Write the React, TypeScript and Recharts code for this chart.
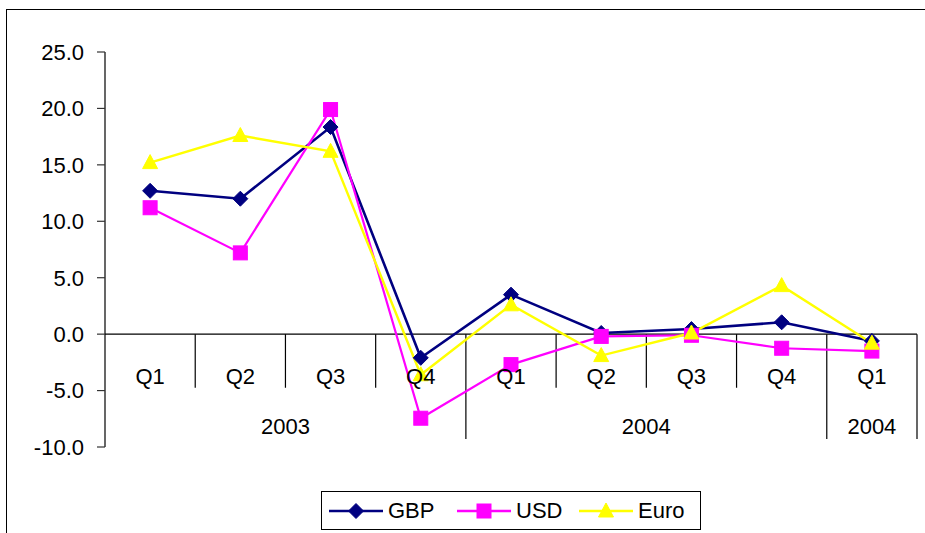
import React from 'react';
import { LineChart, Line, XAxis, YAxis, ReferenceLine, Legend } from 'recharts';

const FONT = "'Liberation Sans', Arial, sans-serif";

const quarters = ['Q1', 'Q2', 'Q3', 'Q4', 'Q1', 'Q2', 'Q3', 'Q4', 'Q1'];
const yearLabels = ['2003', '2004', '2004'];
const yearStarts = [0, 4, 8];
const yearEnds = [4, 8, 9];
const gbp = [12.7, 12.0, 18.35, -2.1, 3.5, 0.1, 0.45, 1.05, -0.6];
const usd = [11.2, 7.2, 19.9, -7.45, -2.7, -0.2, -0.1, -1.25, -1.5];
const euro = [15.2, 17.6, 16.2, -3.6, 2.6, -1.9, 0.1, 4.3, -0.8];
const yTicks = [-10, -5, 0, 5, 10, 15, 20, 25];
const seriesOrder = ['GBP', 'USD', 'Euro'];

const COLORS = { GBP: '#000080', USD: '#FF00FF', Euro: '#FFFF00' };

const data = quarters.map((q, i) => ({ pos: i + 0.5, q, GBP: gbp[i], USD: usd[i], Euro: euro[i] }));
const qTicks = data.map((d) => d.pos);
const yearTicks = yearStarts.map((s, i) => (s + yearEnds[i]) / 2);
const groupBounds = yearEnds;
const innerBounds = qTicks.map((p) => p + 0.5).filter((b) => b < 9 && !groupBounds.includes(b));

const diamond = (cx: number, cy: number, r = 7.5) =>
  `M${cx},${cy - r}L${cx + r},${cy}L${cx},${cy + r}L${cx - r},${cy}Z`;

const markerFor = (name: string, cx: number, cy: number, key?: any) => {
  const fill = (COLORS as any)[name];
  if (name === 'GBP') return <path key={key} d={diamond(cx, cy)} fill={fill} stroke={fill} strokeWidth={1} />;
  if (name === 'USD') return <rect key={key} x={cx - 7} y={cy - 7} width={14} height={14} fill={fill} stroke={fill} strokeWidth={1} />;
  return (
    <path key={key} d={`M${cx},${cy - 8}L${cx + 7.5},${cy + 6}L${cx - 7.5},${cy + 6}Z`} fill={fill} stroke={fill} strokeWidth={1} />
  );
};

const makeDot = (name: string) => (p: any) => markerFor(name, p.cx, p.cy, `${name}-${p.index}`);

const QuarterTick = (props: any) => {
  const { x, y, payload } = props;
  const idx = Math.round(payload.value - 0.5);
  return (
    <text x={x} y={y - 71} textAnchor="middle" dominantBaseline="central" fontSize={22} fontFamily={FONT} fill="#000">
      {quarters[idx]}
    </text>
  );
};

const YearTick = (props: any) => {
  const { x, y, payload } = props;
  const idx = yearTicks.indexOf(payload.value);
  return (
    <text x={x} y={y - 61} textAnchor="middle" dominantBaseline="central" fontSize={22} fontFamily={FONT} fill="#000">
      {yearLabels[idx]}
    </text>
  );
};

const itemLeft = [8, 136, 258];

const LegendContent = (props: any) => {
  const payload = [...(props.payload || [])].sort(
    (a: any, b: any) => seriesOrder.indexOf(a.value) - seriesOrder.indexOf(b.value)
  );
  return (
    <div
      style={{
        position: 'relative',
        width: 380,
        height: 39,
        border: '1.3px solid #000',
        boxSizing: 'border-box',
        background: '#fff',
      }}
    >
      {payload.map((p: any, i: number) => (
        <div
          key={p.value}
          style={{ position: 'absolute', left: itemLeft[i] - 1, top: 0, height: 37, display: 'flex', alignItems: 'center' }}
        >
          <svg width={54} height={20} style={{ display: 'block' }}>
            <line x1={0} y1={10} x2={54} y2={10} stroke={(COLORS as any)[p.value]} strokeWidth={2.5} />
            {markerFor(p.value, 27, 10)}
          </svg>
          <span style={{ marginLeft: 5, fontSize: 22, fontFamily: FONT, color: '#000', lineHeight: '22px' }}>{p.value}</span>
        </div>
      ))}
    </div>
  );
};

export default function App() {
  return (
    <div style={{ position: 'absolute', left: 0, top: 0, width: 925, height: 533, overflow: 'hidden', background: '#fff' }}>
      <div
        style={{
          position: 'absolute',
          left: 6,
          top: 9,
          width: 940,
          height: 560,
          border: '1.5px solid #000',
          boxSizing: 'border-box',
        }}
      />
      <div style={{ position: 'absolute', left: 0, top: 0 }}>
        <LineChart width={925} height={533} data={data} margin={{ top: 52, right: 8, left: 0, bottom: 0 }}>
          <XAxis
            xAxisId="q"
            type="number"
            dataKey="pos"
            domain={[0, 9]}
            ticks={qTicks}
            interval={0}
            height={40}
            axisLine={false}
            tickLine={false}
            tickSize={0}
            tickMargin={0}
            tick={<QuarterTick />}
            allowDataOverflow
          />
          <XAxis
            xAxisId="y"
            type="number"
            dataKey="pos"
            domain={[0, 9]}
            ticks={yearTicks}
            interval={0}
            height={46}
            axisLine={false}
            tickLine={false}
            tickSize={0}
            tickMargin={0}
            tick={<YearTick />}
            allowDataOverflow
          />
          <YAxis
            width={105}
            domain={[-10, 25]}
            ticks={yTicks}
            interval={0}
            tickFormatter={(v: number) => v.toFixed(1)}
            axisLine={{ stroke: '#000', strokeWidth: 1.2 }}
            tickLine={{ stroke: '#333', strokeWidth: 1.2 }}
            tickSize={8}
            tickMargin={13}
            tick={{ fill: '#000', fontSize: 22, fontFamily: FONT }}
            allowDataOverflow
          />
          <ReferenceLine xAxisId="q" y={0} stroke="#000" strokeWidth={1.2} />
          {innerBounds.map((b) => (
            <ReferenceLine
              key={`in-${b}`}
              xAxisId="q"
              segment={[
                { x: b, y: 0 },
                { x: b, y: -4.75 },
              ]}
              stroke="#000"
              strokeWidth={1.2}
            />
          ))}
          {groupBounds.map((b) => (
            <ReferenceLine
              key={`gr-${b}`}
              xAxisId="q"
              segment={[
                { x: b, y: 0 },
                { x: b, y: -9.3 },
              ]}
              stroke="#000"
              strokeWidth={1.2}
            />
          ))}
          <Line
            xAxisId="q"
            dataKey="GBP"
            name="GBP"
            stroke={COLORS.GBP}
            strokeWidth={2.6}
            dot={makeDot('GBP')}
            activeDot={false}
            isAnimationActive={false}
          />
          <Line
            xAxisId="q"
            dataKey="USD"
            name="USD"
            stroke={COLORS.USD}
            strokeWidth={2.2}
            dot={makeDot('USD')}
            activeDot={false}
            isAnimationActive={false}
          />
          <Line
            xAxisId="q"
            dataKey="Euro"
            name="Euro"
            stroke={COLORS.Euro}
            strokeWidth={2.4}
            dot={makeDot('Euro')}
            activeDot={false}
            isAnimationActive={false}
          />
          <Legend
            layout="horizontal"
            verticalAlign="middle"
            align="center"
            wrapperStyle={{ left: 321, top: 491, width: 380, height: 39 }}
            content={<LegendContent />}
          />
        </LineChart>
      </div>
    </div>
  );
}
